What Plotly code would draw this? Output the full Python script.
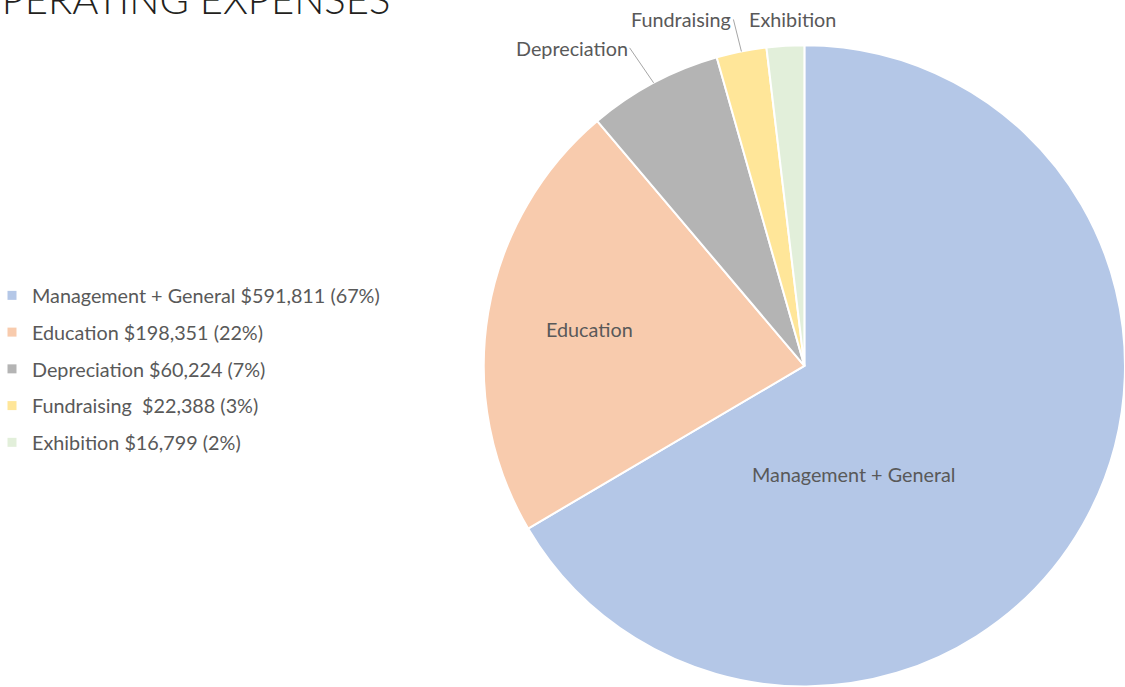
import math
import plotly.graph_objects as go

# ---- data ----
categories = ["Management + General", "Education", "Depreciation", "Fundraising", "Exhibition"]
amounts = [591811, 198351, 60224, 22388, 16799]
legend_labels = [
    "Management + General $591,811 (67%)",
    "Education $198,351 (22%)",
    "Depreciation $60,224 (7%)",
    "Fundraising\u00a0 $22,388 (3%)",
    "Exhibition $16,799 (2%)",
]
colors = ["#B4C7E7", "#F8CBAD", "#B4B4B4", "#FFE699", "#E2EFDA"]

W, H = 1125, 687
FONT = "Lato"
TXT = "#595959"
FS = 19.8

x_dom = [0.43, 1.0]
y_dom = [0.0, 0.935]

fig = go.Figure()
fig.add_trace(go.Pie(
    labels=categories,
    values=amounts,
    sort=False,
    direction="clockwise",
    rotation=0,
    marker=dict(colors=colors, line=dict(color="white", width=2)),
    textinfo="none",
    domain=dict(x=x_dom, y=y_dom),
    showlegend=False,
    hoverinfo="label+value+percent",
))

# legend entries
for lab, col in zip(legend_labels, colors):
    fig.add_trace(go.Scatter(
        x=[None], y=[None], mode="markers", name=lab,
        marker=dict(symbol="square", size=9, color=col),
        legendgroup=lab, showlegend=True,
    ))

# slice labels, anchored at each slice's mid-angle on the rim (computed from the values)
wpx = (x_dom[1] - x_dom[0]) * W
hpx = (y_dom[1] - y_dom[0]) * H
r = min(wpx, hpx) / 2
cx = (x_dom[0] + x_dom[1]) / 2 * W
cy = (y_dom[0] + y_dom[1]) / 2 * H
total = sum(amounts)
# label placement: (mode, a, b, xanchor)
label_place = {
    "Management + General": ("in", 36, 0.37, "center"),
    "Education": ("in", 0, 0.68, "center"),
    "Depreciation": ("arrow", -24, -35, "right"),
    "Fundraising": ("arrow", -8, -32, "right"),
    "Exhibition": ("plain", 7, -27, "center"),
}
cum = 0
for c, v in zip(categories, amounts):
    mid = (cum + v / 2) / total * 2 * math.pi
    cum += v
    mode, a, b, xa = label_place[c]
    font = dict(family=FONT, size=FS, color=TXT)
    if mode == "in":
        ang = mid + math.radians(a)
        px = cx + b * r * math.sin(ang)
        py = cy + b * r * math.cos(ang)
        fig.add_annotation(x=px / W, y=py / H, xref="paper", yref="paper", text=c,
                           showarrow=False, xanchor=xa, yanchor="middle", font=font)
        continue
    px = cx + r * math.sin(mid)
    py = cy + r * math.cos(mid)
    if mode == "arrow":
        fig.add_annotation(x=px / W, y=py / H, xref="paper", yref="paper", text=c,
                           showarrow=True, arrowhead=0, arrowwidth=1, arrowcolor="#A6A6A6",
                           ax=a, ay=b, xanchor=xa, yanchor="middle", font=font)
    else:
        fig.add_annotation(x=px / W, y=py / H, xref="paper", yref="paper", text=c,
                           showarrow=False, xshift=a, yshift=-b, xanchor=xa,
                           yanchor="middle", font=font)

fig.add_annotation(
    x=392 / W, y=1 + 1 / H, xref="paper", yref="paper",
    text="OPERATING EXPENSES", showarrow=False, xanchor="right", yanchor="middle",
    font=dict(family=FONT, size=40, color="#231F20", weight=300),
)

fig.update_layout(
    width=W, height=H,
    margin=dict(l=0, r=0, t=0, b=0, autoexpand=False),
    paper_bgcolor="white", plot_bgcolor="white",
    xaxis=dict(visible=False), yaxis=dict(visible=False),
    legend=dict(x=-8 / W, y=1 - 369 / H, xanchor="left", yanchor="middle",
                font=dict(family=FONT, size=FS, color=TXT),
                tracegroupgap=8, itemclick=False, itemdoubleclick=False),
)

fig.write_html("out.html", config={"displayModeBar": False},
               post_script="document.body.style.margin='0';document.body.style.overflow='hidden';")
